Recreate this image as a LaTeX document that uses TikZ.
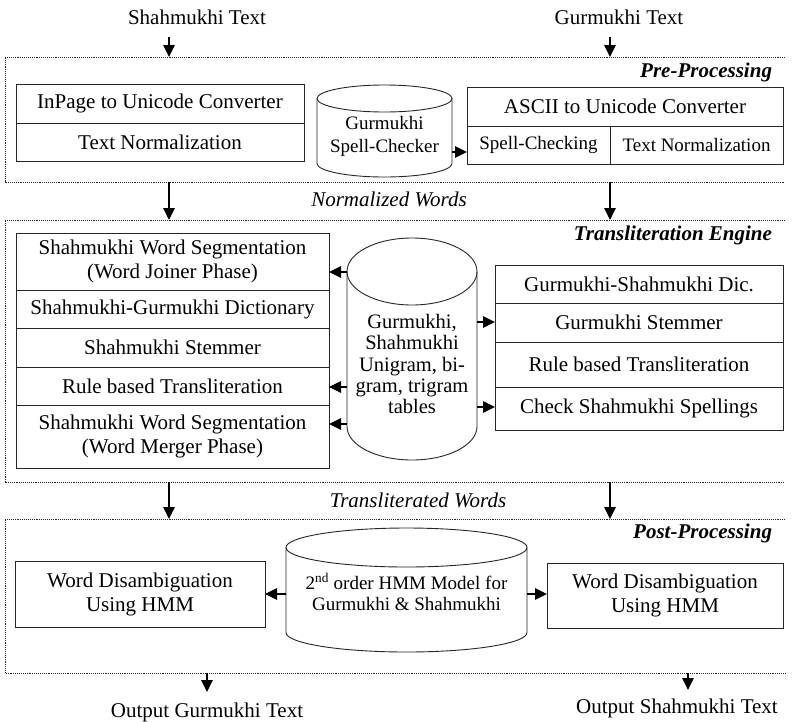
\documentclass[tikz,border=0pt]{standalone}
\usepackage{fontspec}
\setmainfont{Liberation Serif}
\usetikzlibrary{arrows.meta}
\newcommand\drawcyl[3]{%
  \draw[box] ([yshift=-#3]#1.north west) -- ([yshift=#3]#1.south west)
     arc[start angle=180, end angle=360, x radius=#2, y radius=#3]
     -- ([yshift=-#3]#1.north east);
  \draw[box] ([yshift=-#3]#1.north) ellipse[x radius=#2, y radius=#3];}
\begin{document}
\begin{tikzpicture}[x=1pt,y=-1pt,
  every node/.style={inner sep=0pt, outer sep=0pt},
  big/.style={font=\fontsize{21}{24}\selectfont, align=center},
  small/.style={font=\fontsize{19}{23}\selectfont, align=center},
  box/.style={draw=black!85, line width=0.9pt},
  frame/.style={line width=0.9pt, dash pattern=on 0.9pt off 1pt, black!85},
  arr/.style={line width=1.1pt, black, -{Triangle[length=12pt,width=11.5pt]}},
  sec/.style={font=\fontsize{21}{24}\selectfont\bfseries\itshape, anchor=base east},
  flow/.style={font=\fontsize{21}{24}\selectfont\itshape, anchor=base},
]
\useasboundingbox (0,0) rectangle (792,721);

% ---------- frames ----------
\draw[frame] (785,57) -- (5,57) -- (5,182) -- (785,182);
\draw[frame] (785,220) -- (5,220) -- (5,482) -- (785,482);
\draw[frame] (785,519) -- (5,519) -- (5,673) -- (785,673);

% ---------- titles / flow labels ----------
\node[big, anchor=base] (shin) at (197,24) {Shahmukhi Text};
\node[big, anchor=base] (guin) at (619,24) {Gurmukhi Text};
\node[flow] (nw) at (389,206) {Normalized Words};
\node[flow] (tw) at (418,507) {Transliterated Words};
\node[big, anchor=base] (outg) at (207,717) {Output Gurmukhi Text};
\node[big, anchor=base] (outs) at (677,713) {Output Shahmukhi Text};
\node[sec] (pre) at (772,77) {Pre-Processing};
\node[sec] (eng) at (772,240) {Transliteration Engine};
\node[sec] (post) at (772,538) {Post-Processing};

% ---------- pre-processing ----------
\node[box, big, minimum width=288pt, minimum height=39pt] (p1) at (160,103.5) {InPage to Unicode Converter};
\node[box, big, minimum width=288pt, minimum height=38pt] (p2) at (160,142) {Text Normalization};
\node[box, big, minimum width=316pt, minimum height=39pt] (a1) at (625,106.5) {ASCII to Unicode Converter};
\node[box, small, minimum width=143pt, minimum height=38pt] (a2) at (538.5,145) {Spell-Checking};
\node[box, small, minimum width=173pt, minimum height=38pt] (a3) at (696.5,145) {Text Normalization};
\node[minimum width=135pt, minimum height=92pt] (c1) at (384.5,131) {};
\drawcyl{c1}{67.5pt}{13.5pt}
\node[small] (c1t) at (384.5,136.5) {Gurmukhi\\Spell-Checker};

% ---------- transliteration engine ----------
\node[box, big, minimum width=313pt, minimum height=57pt] (r1) at (172.5,261.5) {Shahmukhi Word Segmentation\\(Word Joiner Phase)};
\node[box, big, minimum width=313pt, minimum height=38pt] (r2) at (172.5,309) {Shahmukhi-Gurmukhi Dictionary};
\node[box, big, minimum width=313pt, minimum height=39pt] (r3) at (172.5,347.5) {Shahmukhi Stemmer};
\node[box, big, minimum width=313pt, minimum height=38pt] (r4) at (172.5,386) {Rule based Transliteration};
\node[box, big, minimum width=313pt, minimum height=63pt] (r5) at (172.5,436.5) {Shahmukhi Word Segmentation\\(Word Merger Phase)};

\node[box, big, minimum width=288pt, minimum height=38pt] (q1) at (639,284) {Gurmukhi-Shahmukhi Dic.};
\node[box, big, minimum width=288pt, minimum height=39pt] (q2) at (639,322.5) {Gurmukhi Stemmer};
\node[box, big, minimum width=288pt, minimum height=45pt] (q3) at (639,364.5) {Rule based Transliteration};
\node[box, big, minimum width=288pt, minimum height=43pt] (q4) at (639,408.5) {Check Shahmukhi Spellings};

\node[minimum width=130pt, minimum height=222pt] (c2) at (412,349) {};
\drawcyl{c2}{65pt}{33.5pt}
\node[font=\fontsize{20.5}{21.3}\selectfont, align=center] (c2t) at (412,364) {Gurmukhi,\\Shahmukhi\\Unigram, bi-\\gram, trigram\\tables};

% ---------- post-processing ----------
\node[box, big, minimum width=250pt, minimum height=66pt] (wl) at (140,594) {Word Disambiguation\\Using HMM};
\node[box, big, minimum width=236pt, minimum height=65pt] (wr) at (665,595.5) {Word Disambiguation\\Using HMM};
\node[minimum width=241pt, minimum height=124pt] (c3) at (406.5,590) {};
\drawcyl{c3}{120.5pt}{19.5pt}
\node[small, font=\fontsize{19}{21}\selectfont] (c3t) at (406.5,592) {2\textsuperscript{nd} order HMM Model for\\Gurmukhi \& Shahmukhi};

% ---------- vertical flow arrows ----------
\coordinate (s1) at (169,37);  \coordinate (e1) at (169,57);
\coordinate (s2) at (610,37);  \coordinate (e2) at (610,57);
\coordinate (s3) at (169,182); \coordinate (e3) at (169,220);
\coordinate (s4) at (610,182); \coordinate (e4) at (610,220);
\coordinate (s5) at (169,482); \coordinate (e5) at (169,519);
\coordinate (s6) at (610,482); \coordinate (e6) at (610,519);
\coordinate (s7) at (207,673); \coordinate (e7) at (207,692);
\coordinate (s8) at (688,673); \coordinate (e8) at (688,690);
\foreach \i in {1,...,8} { \draw[arr] (s\i) -- (e\i); }

% ---------- horizontal arrows ----------
\draw[arr] (c1.east |- 0,152) -- (a2.west |- 0,152);
\draw[arr] (c2.west |- 0,272) -- (r1.east |- 0,272);
\draw[arr] (c2.west |- 0,387) -- (r4.east |- 0,387);
\draw[arr] (c2.west |- 0,424) -- (r5.east |- 0,424);
\draw[arr] (c2.east |- 0,322) -- (q2.west |- 0,322);
\draw[arr] (c2.east |- 0,407) -- (q4.west |- 0,407);
\draw[arr] (c3.west |- 0,594) -- (wl.east |- 0,594);
\draw[arr] (c3.east |- 0,594) -- (wr.west |- 0,594);
\end{tikzpicture}
\end{document}
